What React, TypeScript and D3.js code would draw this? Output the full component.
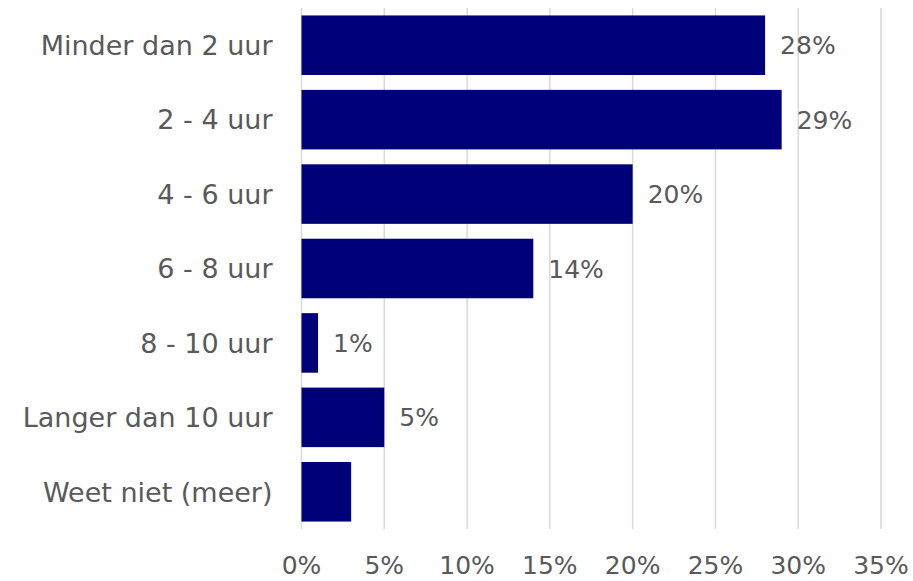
import { scaleBand, scaleLinear } from 'd3'

const categories = [
  'Minder dan 2 uur',
  '2 - 4 uur',
  '4 - 6 uur',
  '6 - 8 uur',
  '8 - 10 uur',
  'Langer dan 10 uur',
  'Weet niet (meer)',
]
const values = [28, 29, 20, 14, 1, 5, 3]
const valueLabels = ['28%', '29%', '20%', '14%', '1%', '5%', '']
const xTickValues = [0, 5, 10, 15, 20, 25, 30, 35]

const width = 913
const height = 581
const margin = { top: 8, right: 32, bottom: 52, left: 301.5 }
const innerHeight = height - margin.top - margin.bottom

const font = '"DejaVu Sans", sans-serif'
const textColor = '#595959'

const App = () => {
  const x = scaleLinear().domain([0, 35]).range([0, 579.5])
  const y = scaleBand<string>().domain(categories).range([0, innerHeight]).paddingInner(0.2).paddingOuter(0.1)

  return (
    <div style={{ position: 'fixed', left: 0, top: 0 }}>
      <svg width={width} height={height} viewBox={`0 0 ${width} ${height}`} style={{ display: 'block', background: 'white' }}>
        <g transform={`translate(${margin.left}, ${margin.top})`}>
          {xTickValues.map((t) => (
            <line key={t} x1={x(t)} x2={x(t)} y1={0} y2={innerHeight} stroke="#d9d9d9" strokeWidth={1.5} />
          ))}

          {categories.map((c, i) => (
            <g key={c}>
              <rect x={x(0)} y={y(c)} width={x(values[i]) - x(0)} height={y.bandwidth()} fill="#000078" />
              <text
                x={-29}
                y={(y(c) ?? 0) + y.bandwidth() / 2}
                dy="0.36em"
                textAnchor="end"
                fontFamily={font}
                fontSize={27}
                fill={textColor}
              >
                {c}
              </text>
              {valueLabels[i] && (
                <text
                  x={x(values[i]) + 15}
                  y={(y(c) ?? 0) + y.bandwidth() / 2}
                  dy="0.36em"
                  fontFamily={font}
                  fontSize={25}
                  fill={textColor}
                >
                  {valueLabels[i]}
                </text>
              )}
            </g>
          ))}

          {xTickValues.map((t) => (
            <text
              key={t}
              x={x(t)}
              y={innerHeight + 45}
              textAnchor="middle"
              fontFamily={font}
              fontSize={25}
              fill={textColor}
            >
              {`${t}%`}
            </text>
          ))}
        </g>
      </svg>
    </div>
  )
}

export default App
